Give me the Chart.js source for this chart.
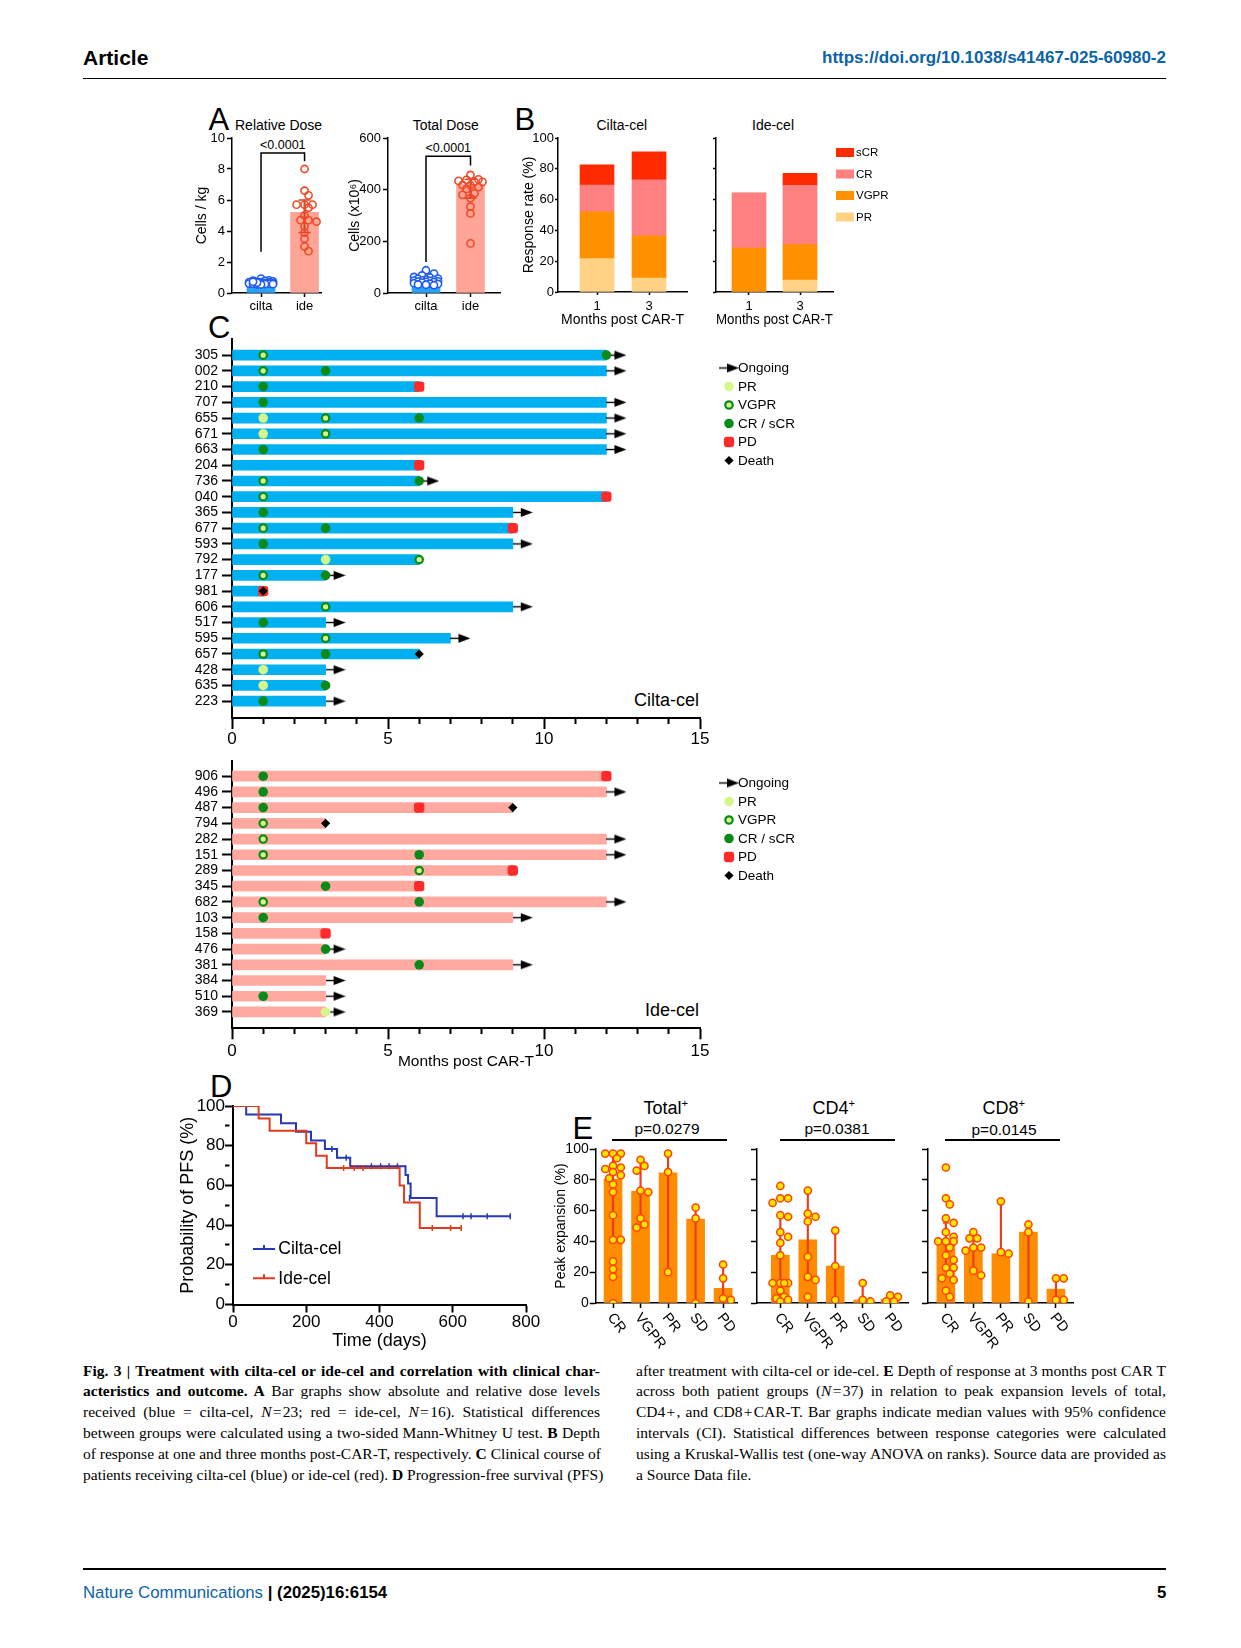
<!DOCTYPE html>
<html>
<head>
<meta charset="utf-8">
<script src="https://cdn.jsdelivr.net/npm/chart.js@4.4.1/dist/chart.umd.min.js"></script>
<style>
html, body { margin: 0; padding: 0; background: #fff; }
#page { position: relative; width: 1241px; height: 1648px; overflow: hidden; background: #fff;
        font-family: "Liberation Sans", Arial, Helvetica, sans-serif; color: #000; }
#page canvas { position: absolute; }
.t { position: absolute; white-space: nowrap; line-height: 1; }
.cap { position: absolute; font-family: "Liberation Serif", "Times New Roman", serif; font-size: 15.5px; line-height: 20.9px; }
.cap div { white-space: nowrap; text-align: justify; text-align-last: justify; height: 20.9px; }
.cap div.last { text-align-last: left; }
</style>
</head>
<body>
<div id="page"></div>
<script>
// ---- A: dose ----
var doseGroups = ['cilta', 'ide'];
var relDoseCilta = [0.93, 0.82, 0.8, 0.78, 0.75, 0.72, 0.7, 0.7, 0.68, 0.66, 0.65, 0.64, 0.63, 0.62, 0.61, 0.6, 0.6, 0.58, 0.57, 0.56, 0.55, 0.67, 0.73];
var relDoseIde = [8.0, 6.6, 6.3, 5.7, 5.7, 5.7, 5.5, 5.0, 4.7, 4.7, 4.6, 4.3, 3.9, 3.5, 3.0, 2.7];
var relDoseBars = [0.65, 5.2];
var relDoseErrIde = [3.9, 6.0];
var relDoseBracket = [2.66, 9.03, 8.5];
var totDoseCilta = [88, 75, 68, 62, 60, 56, 55, 52, 50, 49, 48, 47, 45, 44, 43, 42, 40, 38, 36, 35, 33, 32, 30];
var totDoseIde = [457, 440, 438, 434, 431, 430, 418, 418, 410, 403, 386, 380, 367, 334, 308, 192];
var totDoseBars = [45, 420];
var totDoseErrIde = [367, 440];
var totDoseBracket = [120, 529, 494];

// ---- B: response rate (%) at month 1 and 3 ----
var respMonths = ['1', '3'];
var respCiltaPR = [21.7, 9.1], respCiltaVGPR = [30.4, 27.3], respCiltaCR = [17.4, 36.4], respCiltaSCR = [13.0, 18.2];
var respIdePR = [0, 7.7], respIdeVGPR = [28.6, 23.1], respIdeCR = [35.7, 38.5], respIdeSCR = [0, 7.7];

// ---- C: clinical course (months) ----
var ciltaIds = ['305', '002', '210', '707', '655', '671', '663', '204', '736', '040', '365', '677', '593', '792', '177', '981', '606', '517', '595', '657', '428', '635', '223'];
var ciltaEnd = [12, 12, 6, 12, 12, 12, 12, 6, 6, 12, 9, 9, 9, 6, 3, 1, 9, 3, 7, 6, 3, 3, 3];
var ciltaOngoing = ['305', '002', '707', '655', '671', '663', '736', '365', '593', '177', '606', '517', '595', '428', '223'];
var ciltaPR = [['655', 1], ['671', 1], ['792', 3], ['428', 1], ['635', 1]];
var ciltaVGPR = [['305', 1], ['002', 1], ['655', 3], ['671', 3], ['736', 1], ['040', 1], ['677', 1], ['792', 6], ['177', 1], ['606', 3], ['595', 3], ['657', 1]];
var ciltaCR = [['305', 12], ['002', 3], ['210', 1], ['707', 1], ['655', 6], ['663', 1], ['736', 6], ['365', 1], ['677', 3], ['593', 1], ['177', 3], ['517', 1], ['657', 3], ['635', 3], ['223', 1]];
var ciltaPD = [['210', 6], ['204', 6], ['040', 12], ['677', 9], ['981', 1]];
var ciltaDeath = [['981', 1], ['657', 6]];

var ideIds = ['906', '496', '487', '794', '282', '151', '289', '345', '682', '103', '158', '476', '381', '384', '510', '369'];
var ideEnd = [12, 12, 9, 3, 12, 12, 9, 6, 12, 9, 3, 3, 9, 3, 3, 3];
var ideOngoing = ['496', '282', '151', '682', '103', '476', '381', '384', '510', '369'];
var idePR = [['369', 3]];
var ideVGPR = [['794', 1], ['282', 1], ['151', 1], ['289', 6], ['682', 1]];
var ideCR = [['906', 1], ['496', 1], ['487', 1], ['151', 6], ['345', 3], ['682', 6], ['103', 1], ['476', 3], ['381', 6], ['510', 1]];
var idePD = [['906', 12], ['487', 6], ['289', 9], ['345', 6], ['158', 3]];
var ideDeath = [['487', 9], ['794', 3]];

// ---- D: PFS (days, %) ----
var kmCiltaDays = [0, 36, 131, 172, 213, 251, 284, 320, 471, 478, 485, 556, 757];
var kmCiltaPFS = [100, 95.7, 91.3, 87.0, 82.6, 78.3, 73.9, 69.6, 65.2, 60.9, 53.6, 44.4, 44.4];
var kmCiltaCensDays = [270, 309, 378, 403, 426, 449, 482, 628, 650, 694, 757];
var kmCiltaCensPFS = [78.3, 73.9, 69.6, 69.6, 69.6, 69.6, 53.6, 44.4, 44.4, 44.4, 44.4];
var kmIdeDays = [0, 70, 100, 200, 227, 256, 455, 467, 510, 623];
var kmIdePFS = [100, 93.75, 87.5, 81.25, 75, 68.75, 60, 51.4, 38.6, 38.6];
var kmIdeCensDays = [302, 331, 355, 544, 594, 623];
var kmIdeCensPFS = [68.75, 68.75, 68.75, 38.6, 38.6, 38.6];

// ---- E: peak expansion (%) by response ----
var respCats = ['CR', 'VGPR', 'PR', 'SD', 'PD'];
var totalCR = [97, 97, 97, 94, 89, 88, 87, 85, 83, 81, 77, 72, 57, 41, 41, 27, 22, 17, 0];
var totalVGPR = [93, 89, 86, 73, 72, 55, 51, 49];
var totalPR = [97, 85, 20];
var totalSD = [62, 55, 0];
var totalPD = [25, 16, 3, 2];
var totalMedian = [80.5, 72.5, 84.5, 54.5, 9.5];
var totalLo = [41, 49, 20, 0, 2], totalHi = [97, 93, 97, 62, 25];
var cd4CR = [76, 68, 68, 65, 57, 56, 46, 43, 39, 31, 13, 13, 13, 13, 8, 4, 3, 2, 1];
var cd4VGPR = [73, 58, 56, 53, 30, 17, 15, 4];
var cd4PR = [47, 24, 2];
var cd4SD = [13, 2, 1];
var cd4PD = [5, 4, 1, 1];
var cd4Median = [31, 41, 24, 2, 2.5];
var cd4Lo = [13, 15, 2, 1, 1], cd4Hi = [57, 73, 47, 13, 5];
var cd8CR = [88, 68, 64, 55, 52, 46, 43, 40, 40, 40, 36, 31, 28, 23, 23, 19, 16, 15, 8, 4];
var cd8VGPR = [46, 42, 42, 36, 36, 34, 21, 18];
var cd8PR = [66, 33, 32];
var cd8SD = [51, 46, 1];
var cd8PD = [16, 16, 2, 2];
var cd8Median = [40, 35, 32, 46, 9];
var cd8Lo = [23, 21, 32, 1, 2], cd8Hi = [52, 46, 66, 51, 16];

// ------------------------------------------------------------
var page = document.getElementById('page');
var FONT = '"Liberation Sans", Arial, Helvetica, sans-serif';
Chart.defaults.font.family = FONT;
Chart.defaults.color = '#000';
Chart.defaults.animation = false;
Chart.defaults.events = [];
Chart.defaults.plugins.legend.display = false;
Chart.defaults.plugins.tooltip.enabled = false;

var drawPoint = (Chart.helpers && Chart.helpers.drawPoint) || function (ctx, o, x, y) {
    ctx.beginPath(); ctx.arc(x, y, o.radius, 0, Math.PI * 2); ctx.fill();
    if (o.borderWidth > 0) ctx.stroke();
};

function txt(html, x, y, size, opts) {
    opts = opts || {};
    var d = document.createElement('div');
    d.className = 't';
    d.innerHTML = html;
    d.style.fontSize = size + 'px';
    d.style.top = (y - size / 2) + 'px';
    if (opts.weight) d.style.fontWeight = opts.weight;
    if (opts.color) d.style.color = opts.color;
    page.appendChild(d);
    var w = d.offsetWidth;
    var a = opts.anchor || 'center';
    d.style.left = (a === 'left' ? x : a === 'right' ? x - w : x - w / 2) + 'px';
    return d;
}

function hline(x1, x2, y, w) {
    var d = document.createElement('div');
    d.style.cssText = 'position:absolute;background:#000;left:' + x1 + 'px;top:' + (y - w / 2) + 'px;width:' + (x2 - x1) + 'px;height:' + w + 'px';
    page.appendChild(d);
}

// canvas placed so that the chart area lands on the given page rectangle
function frame(area, pad, yW, xH) {
    var c = document.createElement('canvas');
    var left = area.l - pad.l, top = area.t - pad.t;
    var w = Math.ceil(area.r + pad.r - left), h = Math.ceil(area.b + pad.b - top);
    c.width = w; c.height = h;
    c.style.left = left + 'px'; c.style.top = top + 'px';
    c.style.width = w + 'px'; c.style.height = h + 'px';
    page.appendChild(c);
    return {
        canvas: c,
        padding: { left: pad.l - yW, top: pad.t, right: left + w - area.r, bottom: top + h - area.b - xH }
    };
}

function scale(o) {
    var s = {
        type: 'linear', min: o.min, max: o.max, reverse: !!o.reverse, offset: false,
        afterFit: function (sc) { if (sc.isHorizontal()) sc.height = o.size; else sc.width = o.size; },
        afterBuildTicks: function (sc) { sc.ticks = o.ticks.map(function (v) { return { value: v }; }); },
        border: { color: '#000', width: o.bw || 1.5 },
        grid: { offset: false, drawOnChartArea: false, drawTicks: true, tickLength: o.tl, tickColor: '#000', tickWidth: o.bw || 1.5 },
        ticks: { display: !!o.fs, autoSkip: false, maxRotation: 0, minRotation: 0, padding: o.tp || 0, color: '#000', font: { size: o.fs || 12 } },
        title: { display: false }
    };
    if (o.labels) s.ticks.callback = function (v) { return o.labels(v); };
    if (o.minor) {
        s.grid.tickBorderDash = function (c) { return c.tick && o.minor(c.tick.value) ? [o.minorLen, 80] : []; };
    }
    if (o.title) {
        s.title = { display: true, text: o.title, color: '#000', font: { size: o.tfs }, padding: { top: 0, bottom: 0 } };
    }
    return s;
}

function dotSet(data, st, order) {
    return {
        type: 'scatter', data: data, order: order,
        pointStyle: st.pointStyle, pointRadius: st.radius, pointRotation: st.rotation || 0,
        pointBackgroundColor: st.fill || 'rgba(0,0,0,0)', pointBorderColor: st.stroke || 'rgba(0,0,0,0)',
        pointBorderWidth: st.bw || 0
    };
}

// simple beeswarm: horizontal offsets (in x units), kept within maxOff pixels
function swarm(vals, pxY, pxX, r, k, maxOff) {
    var placed = [], minD = 2 * r * k, step = r * 1.05;
    return vals.map(function (v) {
        var py = v * pxY, best = 0, bestD = -1;
        for (var j = 0; j < 40; j++) {
            var off = (j % 2 ? 1 : -1) * Math.ceil(j / 2) * step;
            if (Math.abs(off) > maxOff) break;
            var d = placed.reduce(function (m, p) { return Math.min(m, Math.hypot(p.x - off, p.y - py)); }, Infinity);
            if (d >= minD) { best = off; bestD = d; break; }
            if (d > bestD) { bestD = d; best = off; }
        }
        placed.push({ x: best, y: py });
        return best / pxX;
    });
}

var keyPlugin = {
    id: 'key',
    afterDraw: function (chart, args, opts) {
        if (!opts || !opts.items) return;
        var ctx = chart.ctx, ox = chart.canvas.offsetLeft, oy = chart.canvas.offsetTop;
        ctx.save();
        ctx.font = opts.size + 'px ' + FONT;
        ctx.textBaseline = 'middle';
        ctx.textAlign = 'left';
        opts.items.forEach(function (it, i) {
            var y = opts.y + i * opts.dy - oy, x = opts.x - ox;
            if (it.box) {
                ctx.fillStyle = it.box;
                ctx.fillRect(x - 9, y - 4.5, 18, 9);
            } else if (it.line) {
                ctx.strokeStyle = it.line; ctx.lineWidth = 2;
                ctx.beginPath(); ctx.moveTo(x - 11, y); ctx.lineTo(x + 11, y);
                ctx.moveTo(x, y - 4); ctx.lineTo(x, y + 1); ctx.stroke();
            } else {
                var st = it.mark;
                ctx.fillStyle = st.fill || '#000'; ctx.strokeStyle = st.stroke || '#000'; ctx.lineWidth = st.bw || 0;
                drawPoint(ctx, { pointStyle: st.pointStyle, radius: st.radius, rotation: st.rotation || 0, borderWidth: st.bw || 0 }, x, y);
            }
            ctx.fillStyle = '#000';
            ctx.fillText(it.label, opts.tx - ox, y + 0.5);
        });
        ctx.restore();
    }
};

var slantPlugin = {
    id: 'slant',
    afterDraw: function (chart, args, opts) {
        if (!opts || !opts.labels) return;
        var ctx = chart.ctx, sc = chart.scales.x;
        ctx.save();
        ctx.font = opts.size + 'px ' + FONT;
        ctx.fillStyle = '#000'; ctx.textBaseline = 'middle'; ctx.textAlign = 'left';
        opts.labels.forEach(function (lab, i) {
            ctx.save();
            ctx.translate(sc.getPixelForValue(i) + opts.dx, sc.top + opts.dy);
            ctx.rotate(opts.angle * Math.PI / 180);
            ctx.fillText(lab, 0, 0);
            ctx.restore();
        });
        ctx.restore();
    }
};
Chart.register(keyPlugin, slantPlugin);

// ============ page text ============
txt('Article', 83, 57.6, 21, { anchor: 'left', weight: 'bold' });
txt('https://doi.org/10.1038/s41467-025-60980-2', 1166, 57.6, 17, { anchor: 'right', color: '#0b63a8', weight: 'bold' });
hline(83, 1166, 78.6, 1.5);
hline(83, 1166, 1568.9, 1.5);
txt('<span style="color:#0b63a8">Nature Communications</span> <b>| (2025)16:6154</b>', 83, 1593, 16.8, { anchor: 'left' });
txt('5', 1166, 1593, 16.8, { anchor: 'right', weight: 'bold' });

txt('A', 219, 119, 31);
txt('B', 525, 119, 31);
txt('C', 219, 327, 31);
txt('D', 221, 1086, 31);
txt('E', 583, 1128, 31);

txt('Relative Dose', 278.5, 125, 14);
txt('Total Dose', 445.7, 125, 14);
txt('&lt;0.0001', 283, 145, 12.5);
txt('&lt;0.0001', 448.5, 148.5, 12.5);
txt('Cilta-cel', 622, 125, 14);
txt('Ide-cel', 773, 125, 14);
txt('Cilta-cel', 699, 700, 18, { anchor: 'right' });
txt('Ide-cel', 699, 1010, 18, { anchor: 'right' });

var supPlus = '<span style="font-size:0.62em;position:relative;top:-0.6em">+</span>';
txt('Total' + supPlus, 666, 1108, 18);
txt('CD4' + supPlus, 834, 1108, 18);
txt('CD8' + supPlus, 1004, 1108, 18);
txt('p=0.0279', 667, 1129, 15.5);
txt('p=0.0381', 837, 1129, 15.5);
txt('p=0.0145', 1004, 1130, 15.5);
hline(612, 727, 1140, 1.5);
hline(780, 895, 1140, 1.5);
hline(945, 1060, 1140, 1.5);

// caption
var capLeft = [
    '<b>Fig. 3 | Treatment with cilta-cel or ide-cel and correlation with clinical char-</b>',
    '<b>acteristics and outcome. A</b> Bar graphs show absolute and relative dose levels',
    'received (blue = cilta-cel, <i>N</i>\u200a=\u200a23; red = ide-cel, <i>N</i>\u200a=\u200a16). Statistical differences',
    'between groups were calculated using a two-sided Mann-Whitney U test. <b>B</b> Depth',
    'of response at one and three months post-CAR-T, respectively. <b>C</b> Clinical course of',
    'patients receiving cilta-cel (blue) or ide-cel (red). <b>D</b> Progression-free survival (PFS)'
];
var capRight = [
    'after treatment with cilta-cel or ide-cel. <b>E</b> Depth of response at 3 months post CAR T',
    'across both patient groups (<i>N</i>\u200a=\u200a37) in relation to peak expansion levels of total,',
    'CD4\u200a+\u200a, and CD8\u200a+\u200aCAR-T. Bar graphs indicate median values with 95% confidence',
    'intervals (CI). Statistical differences between response categories were calculated',
    'using a Kruskal-Wallis test (one-way ANOVA on ranks). Source data are provided as',
    'a Source Data file.'
];
function caption(lines, x, w, lastLeft) {
    var box = document.createElement('div');
    box.className = 'cap';
    box.style.left = x + 'px'; box.style.top = '1360.5px'; box.style.width = w + 'px';
    lines.forEach(function (l, i) {
        var d = document.createElement('div');
        d.innerHTML = l;
        if (lastLeft && i === lines.length - 1) d.className = 'last';
        box.appendChild(d);
    });
    page.appendChild(box);
}
caption(capLeft, 83, 517, false);
caption(capRight, 636, 530, true);

// ============ A ============
function dosePanel(o) {
    var fr = frame(o.area, { l: 50, t: 20, r: 12, b: 32 }, o.yW, 26);
    var pxX = (o.area.r - o.area.l) / (o.xmax - o.xmin);
    var pxY = (o.area.b - o.area.t) / o.ymax;
    var offC = swarm(o.cilta, pxY, pxX, 3.8, 0.7, 12), offI = swarm(o.ide, pxY, pxX, 3.8, 0.8, 12);
    new Chart(fr.canvas, {
        type: 'bar',
        data: {
            datasets: [
                { data: o.bars.map(function (v, i) { return { x: i, y: v }; }), backgroundColor: ['#2aa3f7', '#ffa597'],
                  barThickness: 28, grouped: false, order: 5 },
                { data: [{ x: 1, y: o.err }], backgroundColor: '#d8442a', barThickness: 1.5, grouped: false, order: 3 },
                dotSet([{ x: 1, y: o.err[0] }, { x: 1, y: o.err[1] }], { pointStyle: 'line', radius: 6, stroke: '#d8442a', bw: 1.5 }, 3),
                dotSet(o.cilta.map(function (v, i) { return { x: offC[i], y: v }; }), { pointStyle: 'circle', radius: 3.6, fill: '#ffffff', stroke: '#1f5af0', bw: 1.6 }, 2),
                dotSet(o.ide.map(function (v, i) { return { x: 1 + offI[i], y: v }; }), { pointStyle: 'circle', radius: 3.6, fill: 'rgba(255,255,255,0)', stroke: '#f04a26', bw: 1.6 }, 2),
                { type: 'line', data: [{ x: 0, y: o.bracket[0] }, { x: 0, y: o.bracket[1] }, { x: 1, y: o.bracket[1] }, { x: 1, y: o.bracket[2] }],
                  borderColor: '#000', borderWidth: 1.5, pointRadius: 0, fill: false, order: 0 }
            ]
        },
        options: {
            responsive: false, layout: { padding: fr.padding },
            scales: {
                x: scale({ min: o.xmin, max: o.xmax, ticks: [0, 1], size: 26, tl: 4, tp: 2, fs: 13,
                           labels: function (v) { return doseGroups[v]; } }),
                y: scale({ min: 0, max: o.ymax, ticks: o.yticks, size: o.yW, tl: 5, tp: 2, fs: 13, title: o.ytitle, tfs: 14 })
            }
        }
    });
}
dosePanel({ area: { l: 232, t: 138, r: 321, b: 293 }, yW: 38, xmin: -0.667, xmax: 1.378, ymax: 10, yticks: [0, 2, 4, 6, 8, 10],
            cilta: relDoseCilta, ide: relDoseIde, bars: relDoseBars, err: relDoseErrIde, bracket: relDoseBracket, ytitle: 'Cells / kg' });
dosePanel({ area: { l: 388, t: 138, r: 500, b: 293 }, yW: 41.4, xmin: -0.854, xmax: 1.663, ymax: 600, yticks: [0, 200, 400, 600],
            cilta: totDoseCilta, ide: totDoseIde, bars: totDoseBars, err: totDoseErrIde, bracket: totDoseBracket, ytitle: 'Cells (x10\u2076)' });

// ============ B ============
var respColors = { PR: '#ffd285', VGPR: '#ff9100', CR: '#ff8080', SCR: '#ff2a00' };
function respPanel(o) {
    var fr = frame(o.area, { l: o.padL, t: 16, r: o.padR, b: 42 }, o.yW, 36.4);
    function ds(vals, col) {
        return { data: vals.map(function (v, i) { return { x: i, y: v }; }), backgroundColor: col, barThickness: 34, grouped: false };
    }
    var opts = {
        responsive: false, layout: { padding: fr.padding },
        scales: {
            x: scale({ min: o.xmin, max: o.xmax, ticks: [0, 1], size: 36.4, tl: 3, tp: 4, fs: 13,
                       labels: function (v) { return respMonths[v]; }, title: 'Months post CAR-T', tfs: 14 }),
            y: Object.assign(scale({ min: 0, max: 100, ticks: [0, 20, 40, 60, 80, 100], size: o.yW, tl: 3, tp: 1, fs: o.showY ? 13 : 0,
                                     title: o.showY ? 'Response rate (%)' : null, tfs: 14 }), { stacked: true })
        },
        plugins: {}
    };
    if (o.key) opts.plugins.key = o.key;
    new Chart(fr.canvas, {
        type: 'bar',
        data: { datasets: [ds(o.pr, respColors.PR), ds(o.vgpr, respColors.VGPR), ds(o.cr, respColors.CR), ds(o.scr, respColors.SCR)] },
        options: opts
    });
}
respPanel({ area: { l: 558, t: 138, r: 687, b: 292 }, padL: 42, padR: 10, yW: 37, xmin: -0.75, xmax: 1.73, showY: true,
            pr: respCiltaPR, vgpr: respCiltaVGPR, cr: respCiltaCR, scr: respCiltaSCR });
respPanel({ area: { l: 716, t: 138, r: 833, b: 292 }, padL: 8, padR: 70, yW: 4, xmin: -0.647, xmax: 1.647, showY: false,
            pr: respIdePR, vgpr: respIdeVGPR, cr: respIdeCR, scr: respIdeSCR,
            key: { x: 845, tx: 856, y: 152.5, dy: 21.5, size: 11.5,
                   items: [{ label: 'sCR', box: respColors.SCR }, { label: 'CR', box: respColors.CR },
                           { label: 'VGPR', box: respColors.VGPR }, { label: 'PR', box: respColors.PR }] } });

// ============ C ============
function arrowImage() {
    var c = document.createElement('canvas');
    c.width = 20; c.height = 11;
    var g = c.getContext('2d');
    g.strokeStyle = '#000'; g.lineWidth = 1.4;
    g.beginPath(); g.moveTo(0, 5.5); g.lineTo(9, 5.5); g.stroke();
    g.fillStyle = '#000';
    g.beginPath(); g.moveTo(8, 1); g.lineTo(20, 5.5); g.lineTo(8, 10); g.closePath(); g.fill();
    return c;
}
var mk = {
    Ongoing: { pointStyle: arrowImage(), radius: 6 },
    PR: { pointStyle: 'circle', radius: 4.8, fill: '#d4f78c' },
    VGPR: { pointStyle: 'circle', radius: 3.7, fill: '#d4f78c', stroke: '#0a8a18', bw: 2.2 },
    CR: { pointStyle: 'circle', radius: 4.8, fill: '#0a8a18' },
    PD: { pointStyle: 'rectRounded', radius: 6, fill: '#ff2b2b' },
    Death: { pointStyle: 'rectRot', radius: 4.6, fill: '#000' }
};

function coursePanel(o) {
    var fr = frame(o.area, { l: 62, t: 8, r: 130, b: o.xH + 6 }, 40, o.xH);
    var pxMonth = (o.area.r - o.area.l) / 15;
    var n = o.ids.length;
    function row(id) { return o.ids.indexOf(id); }
    function ev(list, st, order) {
        return dotSet(list.map(function (e) { return { x: e[1], y: row(e[0]) }; }), st, order);
    }
    var rows = [], months = [];
    for (var i = 0; i < n; i++) rows.push(i);
    for (var m = 0; m <= 15; m++) months.push(m);
    var xs = scale({ min: 0, max: 15, ticks: months, size: o.xH, tl: 11, tp: o.tp, fs: 17, bw: 2,
                     labels: function (v) { return v % 5 === 0 ? String(v) : ''; },
                     minor: function (v) { return v % 5 !== 0; }, minorLen: 5 });
    if (o.xtitle) xs.title = { display: true, text: o.xtitle, color: '#000', font: { size: 15.5 }, padding: { top: 0, bottom: 0 } };
    new Chart(fr.canvas, {
        type: 'bar',
        data: {
            datasets: [
                { data: o.ends.map(function (v, i) { return { x: v, y: i }; }), backgroundColor: o.color, barThickness: 10, grouped: false, order: 20 },
                dotSet(o.ongoing.map(function (id) { return { x: o.ends[row(id)] + 10 / pxMonth, y: row(id) }; }), mk.Ongoing, 9),
                ev(o.PR, mk.PR, 8), ev(o.VGPR, mk.VGPR, 7), ev(o.CR, mk.CR, 6), ev(o.PD, mk.PD, 5), ev(o.Death, mk.Death, 4)
            ]
        },
        options: {
            indexAxis: 'y', responsive: false, layout: { padding: fr.padding },
            scales: {
                x: xs,
                y: scale({ min: o.ymin, max: o.ymax, reverse: true, ticks: rows, size: 40, tl: 10, tp: 4, fs: 14, bw: 2,
                           labels: function (v) { return o.ids[v]; } })
            },
            plugins: {
                key: { x: 729, tx: 738, y: o.keyY, dy: 18.5, size: 13.5,
                       items: [{ label: 'Ongoing', mark: mk.Ongoing }, { label: 'PR', mark: mk.PR }, { label: 'VGPR', mark: mk.VGPR },
                               { label: 'CR / sCR', mark: mk.CR }, { label: 'PD', mark: mk.PD }, { label: 'Death', mark: mk.Death }] }
            }
        }
    });
}
coursePanel({ area: { l: 232, t: 335, r: 700, b: 718 }, xH: 30, tp: 0, ymin: -1, ymax: 23.07, keyY: 368, color: '#00b0f0',
              ids: ciltaIds, ends: ciltaEnd, ongoing: ciltaOngoing, PR: ciltaPR, VGPR: ciltaVGPR, CR: ciltaCR, PD: ciltaPD, Death: ciltaDeath });
coursePanel({ area: { l: 232, t: 757, r: 700, b: 1028.3 }, xH: 43, tp: 2, ymin: -0.94, ymax: 16.04, keyY: 783, color: '#ffa9a0',
              xtitle: 'Months post CAR-T',
              ids: ideIds, ends: ideEnd, ongoing: ideOngoing, PR: idePR, VGPR: ideVGPR, CR: ideCR, PD: idePD, Death: ideDeath });

// ============ D ============
(function () {
    var fr = frame({ l: 232.7, t: 1105.7, r: 525.7, b: 1304.2 }, { l: 60, t: 12, r: 20, b: 52 }, 56, 47.6);
    var blue = '#2438b8', red = '#e23a1c';
    function pts(xs, ys) { return xs.map(function (x, i) { return { x: x, y: ys[i] }; }); }
    var tick = function (col) { return { pointStyle: 'line', radius: 3, rotation: 90, stroke: col, bw: 1.5 }; };
    new Chart(fr.canvas, {
        type: 'line',
        data: {
            datasets: [
                { data: pts(kmCiltaDays, kmCiltaPFS), borderColor: blue, borderWidth: 2, stepped: true, pointRadius: 0, fill: false, order: 2 },
                { data: pts(kmIdeDays, kmIdePFS), borderColor: red, borderWidth: 2, stepped: true, pointRadius: 0, fill: false, order: 1 },
                dotSet(pts(kmCiltaCensDays, kmCiltaCensPFS), tick(blue), 2),
                dotSet(pts(kmIdeCensDays, kmIdeCensPFS), tick(red), 1)
            ]
        },
        options: {
            responsive: false, layout: { padding: fr.padding },
            scales: {
                x: scale({ min: 0, max: 800, ticks: [0, 200, 400, 600, 800], size: 47.6, tl: 8, tp: 0, fs: 17, bw: 2,
                           title: 'Time (days)', tfs: 18 }),
                y: scale({ min: 0, max: 100, ticks: [0, 10, 20, 30, 40, 50, 60, 70, 80, 90, 100], size: 56, tl: 8, tp: 0, fs: 17, bw: 2,
                           labels: function (v) { return v % 20 === 0 ? String(v) : ''; },
                           minor: function (v) { return v % 20 !== 0; }, minorLen: 4.5,
                           title: 'Probability of PFS (%)', tfs: 18 })
            },
            plugins: {
                key: { x: 264, tx: 278.3, y: 1249, dy: 29.3, size: 17.5,
                       items: [{ label: 'Cilta-cel', line: blue }, { label: 'Ide-cel', line: red }] }
            }
        }
    });
})();

// ============ E ============
function peakPanel(o) {
    var fr = frame(o.area, { l: o.yW + 4, t: 12, r: 8, b: 62 }, o.yW, 6);
    var pxX = (o.area.r - o.area.l) / (o.xmax - o.xmin), pxY = (o.area.b - o.area.t) / 100;
    var dots = [], caps = [];
    o.groups.forEach(function (vals, i) {
        var off = swarm(vals, pxY, pxX, 3.7, 0.85, 8);
        vals.forEach(function (v, j) { dots.push({ x: i + off[j], y: v }); });
        caps.push({ x: i, y: o.lo[i] }, { x: i, y: o.hi[i] });
    });
    new Chart(fr.canvas, {
        type: 'bar',
        data: {
            datasets: [
                { data: o.med.map(function (v, i) { return { x: i, y: v }; }), backgroundColor: '#ff8c00', barThickness: 18, grouped: false, order: 4 },
                { data: o.lo.map(function (v, i) { return { x: i, y: [v, o.hi[i]] }; }), backgroundColor: '#e8401c', barThickness: 1.5, grouped: false, order: 3 },
                dotSet(caps, { pointStyle: 'line', radius: 3, stroke: '#e8401c', bw: 1.5 }, 2),
                dotSet(dots, { pointStyle: 'circle', radius: 3.6, fill: '#ffe600', stroke: '#ff4200', bw: 1.5 }, 1)
            ]
        },
        options: {
            responsive: false, layout: { padding: fr.padding },
            scales: {
                x: scale({ min: o.xmin, max: o.xmax, ticks: [0, 1, 2, 3, 4], size: 6, tl: 5, fs: 0, bw: 1.5 }),
                y: scale({ min: 0, max: 100, ticks: [0, 20, 40, 60, 80, 100], size: o.yW, tl: 6, tp: 1, fs: o.showY ? 14 : 0,
                           title: o.showY ? 'Peak expansion (%)' : null, tfs: 14 })
            },
            plugins: { slant: { labels: respCats, size: 14.5, angle: 52, dx: -3, dy: 12 } }
        }
    });
}
peakPanel({ area: { l: 596, t: 1149, r: 738, b: 1303 }, yW: 42.7, showY: true, xmin: -0.63, xmax: 4.53,
            groups: [totalCR, totalVGPR, totalPR, totalSD, totalPD], med: totalMedian, lo: totalLo, hi: totalHi });
peakPanel({ area: { l: 757, t: 1149, r: 908, b: 1303 }, yW: 8, showY: false, xmin: -0.85, xmax: 4.65,
            groups: [cd4CR, cd4VGPR, cd4PR, cd4SD, cd4PD], med: cd4Median, lo: cd4Lo, hi: cd4Hi });
peakPanel({ area: { l: 928, t: 1149, r: 1073, b: 1303 }, yW: 8, showY: false, xmin: -0.65, xmax: 4.62,
            groups: [cd8CR, cd8VGPR, cd8PR, cd8SD, cd8PD], med: cd8Median, lo: cd8Lo, hi: cd8Hi });
</script>
</body>
</html>
